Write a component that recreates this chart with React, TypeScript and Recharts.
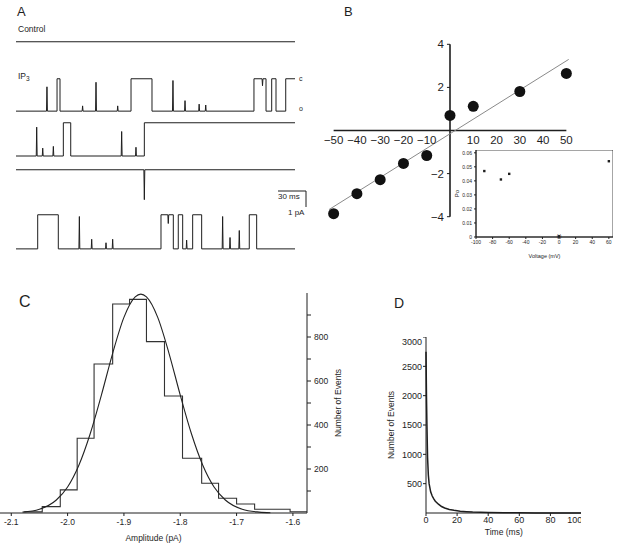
import React from 'react';
import {
  LineChart, Line, XAxis, YAxis, ScatterChart, Scatter, ComposedChart,
  ReferenceLine, ReferenceDot, ReferenceArea,
} from 'recharts';

const FONT = '"Liberation Sans", Arial, sans-serif';
const INK = '#1e1e1e';

// ---------- A: single channel records (time ms, current pA) ----------
const SWEEP_MS = 310;
const controlBase = 0;
const trace1Base = -1.85;
const trace1Boxes: [number, number][] = [[45.6, 48.9], [127.8, 151.1], [264.4, 277.8], [284.1, 288.9], [299.7, 310]];
const trace1Spikes: [number, number][] = [[34.4, -0.46], [74, -1.55], [88.9, -0.2], [113, -1.55], [174.4, -0.1], [187.8, -1.25], [203.5, -1.45], [210.8, -1.5], [273.9, -0.4]];
const trace2Base = -1.9;
const trace2Boxes: [number, number][] = [[52.6, 60.8], [142.6, 310]];
const trace2Spikes: [number, number][] = [[23, -0.25], [29.7, -1.45], [41.5, -1.35], [117.4, -0.5], [133.3, -1.4]];
const trace3Base = 0;
const trace3Spikes: [number, number][] = [[142.6, -1.71]];
const trace4Base = -1.95;
const trace4Boxes: [number, number][] = [[24.1, 47], [161.1, 174.8], [180.3, 185.2], [196.3, 206.3], [259.2, 267.4]];
const trace4Spikes: [number, number][] = [[70.4, -0.1], [84.1, -1.4], [100, -1.6], [107.4, -1.4], [169.2, -0.5], [189.6, -1.45], [229.6, -0.1], [237.8, -1.3], [248.1, -0.9]];

// ---------- B: I-V relation ----------
const ivVoltage = [-50, -40, -30, -20, -10, 0, 10, 30, 50];
const ivCurrent = [-3.86, -2.93, -2.28, -1.53, -1.16, 0.7, 1.12, 1.81, 2.65];
const ivFitVoltage = [-52, 51];
const ivFitCurrent = [-3.67, 3.3];
const ivXTicks = [-50, -40, -30, -20, -10, 10, 20, 30, 40, 50];
const ivYTicks = [-4, -2, 2, 4];

// inset: open probability
const poVoltage = [-90, -70, -60, 0, 60];
const poValue = [0.047, 0.041, 0.045, 0.0005, 0.054];
const poXTicks = [-100, -80, -60, -40, -20, 0, 20, 40, 60];
const poYTicks = [0, 0.01, 0.02, 0.03, 0.04, 0.05, 0.06];

// ---------- C: amplitude histogram ----------
const ampEdges = [-2.077, -2.045, -2.013, -1.983, -1.953, -1.92, -1.89, -1.86, -1.828, -1.796, -1.762, -1.732, -1.7, -1.668, -1.605, -1.575];
const ampCounts = [5, 29, 105, 340, 677, 950, 971, 779, 532, 249, 135, 67, 41, 17, 6];
const ampFitX = [-2.08, -2.05, -2.02, -2.0, -1.98, -1.96, -1.94, -1.92, -1.9, -1.88, -1.87, -1.86, -1.84, -1.82, -1.8, -1.78, -1.76, -1.74, -1.72, -1.69, -1.66, -1.64];
const ampFitY = [4, 17, 59, 118, 217, 359, 536, 726, 889, 982, 995, 982, 889, 726, 536, 359, 217, 118, 59, 17, 4, 1];
const ampXTicks = [-2.1, -2.0, -1.9, -1.8, -1.7, -1.6];
const ampYTicks = [100, 200, 300, 400, 500, 600, 700, 800, 900];

// ---------- D: dwell time histogram ----------
const dwellTime = [0, 0.3, 0.6, 1, 1.5, 2, 3, 4, 5, 6, 8, 10, 12, 15, 18, 22, 26, 30, 35, 40, 50, 60, 70, 80, 90, 100];
const dwellCount = [2750, 2000, 1500, 950, 650, 500, 360, 290, 240, 200, 150, 110, 85, 60, 45, 30, 22, 16, 12, 9, 5, 3, 2, 1, 1, 0];
const dwellXTicks = [0, 20, 40, 60, 80, 100];
const dwellYTicks = [500, 1000, 1500, 2000, 2500, 3000];

function buildTrace(base: number, boxes: [number, number][], spikes: [number, number][]) {
  const levelAt = (t: number) => (boxes.some(([a, b]) => t >= a && t <= b) ? 0 : base);
  const pts: [number, number][] = [[0, levelAt(0)]];
  boxes.forEach(([a, b]) => {
    pts.push([a, base], [a, 0], [b, 0]);
    if (b < SWEEP_MS) pts.push([b, base]);
  });
  spikes.forEach(([t, p]) => {
    const l = levelAt(t);
    pts.push([t - 0.5, l], [t, p], [t + 0.5, l]);
  });
  pts.push([SWEEP_MS, levelAt(SWEEP_MS)]);
  pts.sort((m, n) => m[0] - n[0]);
  return pts.map(([t, i]) => ({ t, i }));
}

const traces = [
  { top: 33, data: buildTrace(controlBase, [], []) },
  { top: 70, data: buildTrace(trace1Base, trace1Boxes, trace1Spikes) },
  { top: 114, data: buildTrace(trace2Base, trace2Boxes, trace2Spikes) },
  { top: 161, data: buildTrace(trace3Base, [], trace3Spikes) },
  { top: 206, data: buildTrace(trace4Base, trace4Boxes, trace4Spikes) },
];

const ivData = ivVoltage.map((v, i) => ({ v, i: ivCurrent[i] }));
const poData = poVoltage.map((v, i) => ({ v, po: poValue[i] }));
const histData = ampEdges.map((x, i) => ({ x, y: ampCounts[Math.min(i, ampCounts.length - 1)] }));
const fitData = ampFitX.map((x, i) => ({ x, y: ampFitY[i] }));
const dwellData = dwellTime.map((t, i) => ({ t, n: dwellCount[i] }));

const txt = (left: number, top: number, size: number): React.CSSProperties => ({
  position: 'absolute', left, top, fontSize: size, lineHeight: 1, fontFamily: FONT, color: INK, whiteSpace: 'nowrap',
});
const abs = (left: number, top: number): React.CSSProperties => ({ position: 'absolute', left, top });
const zero = { top: 0, right: 0, bottom: 0, left: 0 };

const PoDot = (p: any) => (
  <g>
    <rect x={p.cx - 1.2} y={p.cy - 1.2} width={2.4} height={2.4} fill={INK} />
    {p.payload.v === 0 && (
      <text x={p.cx} y={p.cy + 1.5} fontSize={5} textAnchor="middle" fill={INK} fontFamily={FONT}>(   )</text>
    )}
  </g>
);

export default function App() {
  return (
    <div style={{ position: 'absolute', left: 0, top: 0, width: 624, height: 549, background: '#fff', overflow: 'hidden' }}>
      {/* A */}
      <div style={txt(17, 5, 13)}>A</div>
      <div style={txt(18, 24.5, 8.5)}>Control</div>
      <div style={txt(18, 72, 8.5)}>IP<span style={{ fontSize: 6.5, verticalAlign: -2 }}>3</span></div>
      <div style={txt(299, 75, 7)}>c</div>
      <div style={txt(299, 105, 7)}>o</div>
      {traces.map((tr, k) => (
        <div key={k} style={abs(16, tr.top)}>
          <LineChart width={279} height={49} data={tr.data} margin={zero}>
            <XAxis dataKey="t" type="number" domain={[0, SWEEP_MS]} hide />
            <YAxis type="number" domain={[-2.3, 0.5]} hide />
            <Line dataKey="i" type="linear" stroke={INK} strokeWidth={1} dot={false} isAnimationActive={false} />
          </LineChart>
        </div>
      ))}
      <svg style={abs(270, 185)} width={40} height={30}>
        <polyline points="8,6 36,6 36,22" fill="none" stroke={INK} strokeWidth={1} />
      </svg>
      <div style={txt(278, 193, 8)}>30 ms</div>
      <div style={txt(288, 209, 8)}>1 pA</div>

      {/* B */}
      <div style={txt(344, 5, 13)}>B</div>
      <div style={abs(312, 30)}>
        <ScatterChart width={276} height={201} margin={{ top: 10, right: 10, bottom: 10, left: 10 }}>
          <XAxis dataKey="v" type="number" domain={[-55, 55]} hide />
          <YAxis dataKey="i" type="number" domain={[-4.2, 4.2]} hide />
          <ReferenceLine segment={[{ x: -50, y: 0 }, { x: 50, y: 0 }]} stroke={INK} strokeWidth={1.6} />
          <ReferenceLine segment={[{ x: 0, y: -4 }, { x: 0, y: 4 }]} stroke={INK} strokeWidth={1.6} />
          {ivXTicks.map((v) => (
            <ReferenceDot key={'x' + v} x={v} y={0} r={0}
              label={{ value: String(v).replace('-', '\u2212'), position: 'bottom', offset: 5, fontSize: 11.5, fill: INK, fontFamily: FONT }} />
          ))}
          {ivYTicks.map((v) => (
            <ReferenceDot key={'y' + v} x={0} y={v} r={0}
              label={{ value: String(v).replace('-', '\u2212'), position: 'left', offset: 6, fontSize: 11.5, fill: INK, fontFamily: FONT }} />
          ))}
          {ivYTicks.map((v) => (
            <ReferenceLine key={'yt' + v} segment={[{ x: -1.3, y: v }, { x: 0, y: v }]} stroke={INK} strokeWidth={1} />
          ))}
          <ReferenceLine segment={[{ x: ivFitVoltage[0], y: ivFitCurrent[0] }, { x: ivFitVoltage[1], y: ivFitCurrent[1] }]} stroke="#8a8a8a" strokeWidth={1} />
          <Scatter data={ivData} isAnimationActive={false}
            shape={(p: any) => <circle cx={p.cx} cy={p.cy} r={5.5} fill="#111" />} />
        </ScatterChart>
      </div>
      <div style={abs(438, 150)}>
        <ScatterChart width={175} height={111} margin={zero}>
          <XAxis dataKey="v" type="number" domain={[-100, 65]} ticks={poXTicks} height={24} tickSize={2} tickMargin={1}
            tick={{ fontSize: 5, fill: INK, fontFamily: FONT }} stroke={INK}
            label={{ value: 'Voltage (mV)', position: 'insideBottom', offset: 3, fontSize: 5.5, fill: INK, fontFamily: FONT }} />
          <YAxis dataKey="po" type="number" domain={[0, 0.062]} ticks={poYTicks} width={38} tickSize={2} tickMargin={2}
            tick={{ fontSize: 5, fill: INK, fontFamily: FONT }} stroke={INK}
            label={{ value: 'Po', angle: -90, position: 'center', fontSize: 6, fill: INK, fontFamily: FONT }} />
          <ReferenceArea x1={-100} x2={65} y1={0} y2={0.062} fill="none" stroke={INK} strokeWidth={0.8} />
          <Scatter data={poData} isAnimationActive={false} shape={PoDot} />
        </ScatterChart>
      </div>

      {/* C */}
      <div style={txt(19, 294, 16)}>C</div>
      <div style={abs(0, 293)}>
        <ComposedChart width={369} height={270} margin={zero}>
          <XAxis dataKey="x" type="number" domain={[-2.12, -1.575]} allowDataOverflow ticks={ampXTicks} height={50}
            tickFormatter={(v: number) => v.toFixed(1)} tickSize={3} tickMargin={3} stroke={INK}
            tick={{ fontSize: 8.5, fill: INK, fontFamily: FONT }}
            label={{ value: 'Amplitude (pA)', position: 'center', fontSize: 8.5, fill: INK, fontFamily: FONT }} />
          <YAxis yAxisId="r" orientation="right" type="number" domain={[0, 1000]} ticks={ampYTicks} width={62}
            tickSize={4} tickMargin={3} stroke={INK}
            tickFormatter={(v: number) => (v % 200 === 0 ? String(v) : '')}
            tick={{ fontSize: 8.5, fill: INK, fontFamily: FONT }}
            label={{ value: 'Number of Events', angle: -90, position: 'center', fontSize: 8.5, fill: INK, fontFamily: FONT }} />
          <Line yAxisId="r" data={histData} dataKey="y" type="stepAfter" stroke="#333" strokeWidth={1.1} dot={false} isAnimationActive={false} />
          <Line yAxisId="r" data={fitData} dataKey="y" type="monotone" stroke="#222" strokeWidth={1.1} dot={false} isAnimationActive={false} />
        </ComposedChart>
      </div>

      {/* D */}
      <div style={txt(394, 296, 14)}>D</div>
      <div style={abs(354.5, 337)}>
        <LineChart width={226.5} height={214} data={dwellData} margin={zero}>
          <XAxis dataKey="t" type="number" domain={[0, 100]} ticks={dwellXTicks} height={38} tickSize={3} tickMargin={1}
            stroke={INK} tick={{ fontSize: 9, fill: INK, fontFamily: FONT }}
            label={{ value: 'Time (ms)', position: 'center', fontSize: 8.5, fill: INK, fontFamily: FONT }} />
          <YAxis type="number" domain={[0, 3000]} ticks={dwellYTicks} width={71} tickSize={3} tickMargin={1}
            stroke={INK} tick={{ fontSize: 9, fill: INK, fontFamily: FONT }}
            label={{ value: 'Number of Events', angle: -90, position: 'center', fontSize: 8.5, fill: INK, fontFamily: FONT }} />
          <Line dataKey="n" type="linear" stroke={INK} strokeWidth={1.5} dot={false} isAnimationActive={false} />
        </LineChart>
      </div>
    </div>
  );
}
